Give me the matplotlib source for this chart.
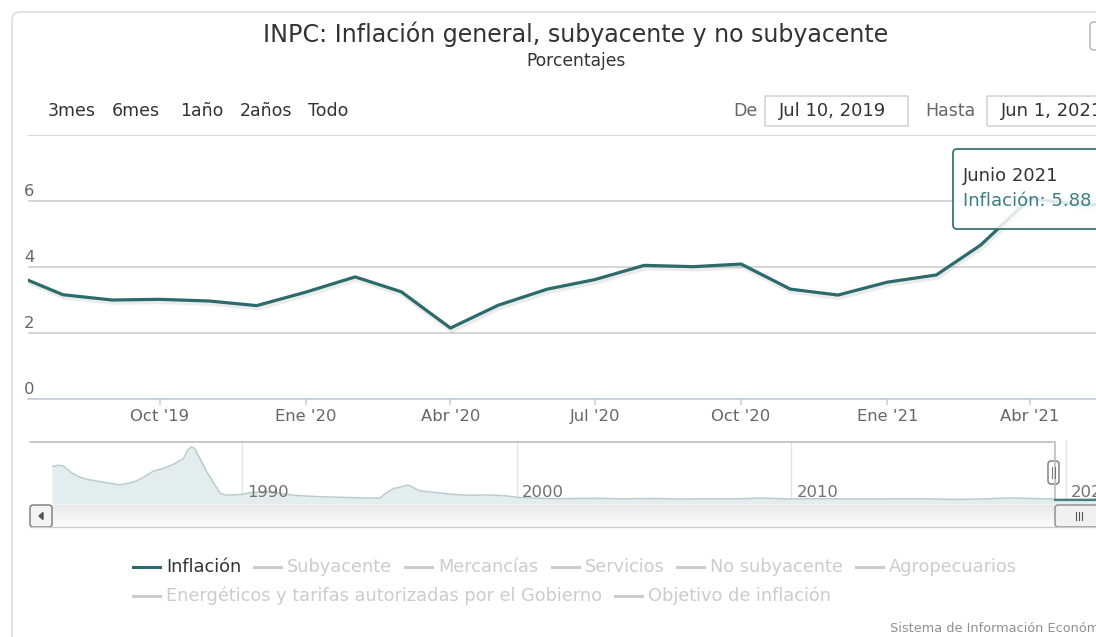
import datetime
import matplotlib
matplotlib.use("Agg")
import matplotlib.pyplot as plt
import matplotlib.dates as mdates
import matplotlib.transforms as mtrans
import matplotlib.patheffects as pe
from matplotlib.patches import FancyBboxPatch, Polygon
from matplotlib.lines import Line2D
from matplotlib.colors import LinearSegmentedColormap
import numpy as np

# INPC headline inflation (%), monthly, Jul 2019 - Jun 2021
months = ["2019-07", "2019-08", "2019-09", "2019-10", "2019-11", "2019-12",
          "2020-01", "2020-02", "2020-03", "2020-04", "2020-05", "2020-06",
          "2020-07", "2020-08", "2020-09", "2020-10", "2020-11", "2020-12",
          "2021-01", "2021-02", "2021-03", "2021-04", "2021-05", "2021-06"]
inflation = [3.78, 3.16, 3.00, 3.02, 2.97, 2.83,
             3.24, 3.70, 3.25, 2.15, 2.84, 3.33,
             3.62, 4.05, 4.01, 4.09, 3.33, 3.15,
             3.54, 3.76, 4.67, 6.08, 5.89, 5.88]

# whole history for the navigator (year, %)
nav_years = [1983.08, 1983.3, 1983.5, 1983.75, 1984.05, 1984.35, 1984.85, 1985.57,
             1986.05, 1986.4, 1986.77, 1987.13, 1987.5, 1987.86, 1988.04, 1988.16,
             1988.28, 1988.7, 1989.2, 1989.44, 1990.0, 1990.3, 1990.9, 1991.87,
             1992.84, 1994.05, 1995.02, 1995.26, 1995.5, 1995.8, 1996.05, 1996.23,
             1996.48, 1997.08, 1997.69, 1998.3, 1999.02, 1999.63, 2000.11, 2001.32,
             2002.9, 2003.9, 2004.9, 2005.9, 2006.9, 2007.9, 2008.9, 2009.9, 2010.9,
             2011.9, 2012.9, 2013.9, 2014.9, 2015.9, 2016.9, 2017.9, 2018.9, 2019.9,
             2020.9, 2021.42]
nav_values = [113, 118, 115, 95, 79, 70, 62, 51,
              61, 76, 98, 107, 121, 140, 172, 180,
              174, 98, 23, 16, 19, 25, 29, 16,
              11, 8, 6, 25, 38, 45, 51, 42,
              31, 25, 19, 16, 17, 14, 8, 4.5,
              5.7, 4.0, 5.2, 3.3, 4.1, 3.8, 6.5, 3.6, 4.4,
              3.8, 3.6, 4.0, 4.1, 2.1, 3.4, 6.8, 4.8, 2.8,
              3.2, 5.9]
nav_decades = [1990, 2000, 2010, 2020]

month_abbr = {1: "Ene", 4: "Abr", 7: "Jul", 10: "Oct"}
y_labels = [0, 2, 4, 6]
range_buttons = ["3mes", "6mes", "1año", "2años", "Todo"]
legend_row1 = ["Inflación", "Subyacente", "Mercancías", "Servicios",
               "No subyacente", "Agropecuarios"]
legend_row2 = ["Energéticos y tarifas autorizadas por el Gobierno",
               "Objetivo de inflación"]

W, H = 1096, 637
TEAL = "#2c6b6b"
LABEL = "#666666"
plt.rcParams["font.family"] = ["DejaVu Sans"]

fig = plt.figure(figsize=(W / 100, H / 100), dpi=100)
fig.patch.set_facecolor("white")
# pixel coords measured from the top-left corner
T = mtrans.Affine2D().scale(1, -1).translate(0, H)


def add_px_axes(x0, y0, x1, y1):
    return fig.add_axes([x0 / W, 1 - y1 / H, (x1 - x0) / W, (y1 - y0) / H])


def px_text(x, y, s, **kw):
    return fig.text(x, y, s, transform=T, **kw)


def px_box(x, y, w, h, r, **kw):
    p = FancyBboxPatch((x, y), w, h, boxstyle="round,pad=0,rounding_size=%d" % r,
                       transform=T, **kw)
    fig.patches.append(p)
    return p


def px_line(xs, ys, **kw):
    fig.lines.append(Line2D(xs, ys, transform=T, **kw))


# chart container
px_box(12, 12, 1300, 700, 8, facecolor="none", edgecolor="#dddddd", lw=1.2)
px_box(1090, 22, 40, 28, 4, facecolor="white", edgecolor="#b0b0b0", lw=1)

# titles
px_text(576, 42, "INPC: Inflación general, subyacente y no subyacente",
        ha="center", va="baseline", fontsize=17.1, color="#333333")
px_text(576, 66, "Porcentajes", ha="center", va="baseline", fontsize=12.3,
        color="#333333")

# range selector
for x, s in zip([48, 112, 180, 240, 308], range_buttons):
    px_text(x, 111, s, ha="left", va="center", fontsize=12.5, color="#333333")
px_text(733, 111, "De", ha="left", va="center", fontsize=12.5, color=LABEL)
px_box(765, 96, 143, 30, 0, facecolor="white", edgecolor="#cccccc", lw=1)
px_text(779, 111, "Jul 10, 2019", ha="left", va="center", fontsize=13, color="#333333")
px_text(925, 111, "Hasta", ha="left", va="center", fontsize=12.5, color=LABEL)
px_box(987, 96, 143, 30, 0, facecolor="white", edgecolor="#cccccc", lw=1)
px_text(1001, 111, "Jun 1, 2021", ha="left", va="center", fontsize=13, color="#333333")

# main chart
dates = [datetime.datetime.strptime(m, "%Y-%m") for m in months]
ax = add_px_axes(28, 135, 1127, 399)
ax.plot(dates, inflation, color=TEAL, lw=2.3, solid_joinstyle="round",
        path_effects=[pe.SimpleLineShadow(offset=(1, -1.5), alpha=0.08, linewidth=4),
                      pe.Normal()], zorder=3)
ax.set_xlim(datetime.datetime(2019, 7, 10), datetime.datetime(2021, 6, 1))
ax.set_ylim(0, 8)
for s in ["top", "right", "left"]:
    ax.spines[s].set_visible(False)
ax.spines["bottom"].set_color("#C0D0E0")
ax.spines["bottom"].set_linewidth(1.2)
ax.set_yticks([0, 2, 4, 6, 8])
ax.yaxis.grid(True, color="#cccccc", lw=1.1)
ax.tick_params(axis="y", left=False, labelleft=False)
ax.set_axisbelow(True)
ax.xaxis.set_major_locator(mdates.MonthLocator(bymonth=list(month_abbr)))
ax.xaxis.set_major_formatter(
    plt.FuncFormatter(lambda v, p: "%s '%s" % (month_abbr[mdates.num2date(v).month],
                                               mdates.num2date(v).strftime("%y"))))
ax.tick_params(axis="x", length=4, width=1.1, color="#C0D0E0", pad=3,
               labelsize=11.8, labelcolor=LABEL)
ylab_tr = mtrans.offset_copy(ax.get_yaxis_transform(), fig=fig, x=-4, y=2, units="dots")
for v in y_labels:
    ax.text(0, v, str(v), transform=ylab_tr, ha="left", va="bottom",
            fontsize=11.8, color=LABEL)

# tooltip
px_box(953, 149, 200, 80, 4, facecolor=(1, 1, 1, 0.85), edgecolor=TEAL, lw=1.2,
       zorder=5)
px_text(963, 176, "Junio 2021", ha="left", va="center", fontsize=13, color="#333333",
        zorder=6)
px_text(963, 201, "Inflación: 5.88", ha="left", va="center", fontsize=13,
        color="#3d7d84", zorder=6)

# navigator
nav = add_px_axes(52, 441, 1105, 504)
nav_lo = -13.6
nav.fill_between(nav_years, nav_values, nav_lo, color="#e4eded", lw=0)
nav.plot(nav_years, nav_values, color="#b9cdcd", lw=1.1)
for d in nav_decades:
    nav.axvline(d, color="#e3e3e3", lw=1, zorder=0)
    nav.annotate(str(d), (d, 0), xycoords=("data", "axes fraction"),
                 xytext=(5, 4), textcoords="offset pixels", ha="left", va="bottom",
                 fontsize=11.8, color="#707070")
nav.set_xlim(nav_years[0], nav_years[-1])
nav.set_ylim(nav_lo, 200)
nav.axis("off")

px_line([30, 1055, 1055], [441.5, 441.5, 500], color="#b8b8b8", lw=1.1)
px_line([1055, 1130], [500, 500], color="#4c7d7d", lw=1.6)
px_box(1048, 461, 11, 23, 3, facecolor="white", edgecolor="#777777", lw=1)
px_line([1052, 1052], [467, 478], color="#777777", lw=0.8)
px_line([1055, 1055], [467, 478], color="#777777", lw=0.8)

# scrollbar
sb = add_px_axes(30, 505, 1127, 527)
grad = LinearSegmentedColormap.from_list("sb", ["#e9e9e9", "#fdfdfd"])
sb.imshow(np.linspace(0, 1, 20).reshape(-1, 1), aspect="auto", cmap=grad,
          extent=[0, 1, 0, 1], origin="upper")
sb.axis("off")
px_line([30, 1127], [527, 527], color="#cccccc", lw=1)
px_box(30, 505, 22, 22, 3, facecolor="#f3f3f3", edgecolor="#777777", lw=1)
fig.patches.append(Polygon([(39, 516), (43, 512.5), (43, 519.5)], closed=True,
                           transform=T, color="#555555"))
px_box(1055, 505, 50, 22, 3, facecolor="#f1f1f1", edgecolor="#888888", lw=1)
px_box(1105, 505, 22, 22, 3, facecolor="#f1f1f1", edgecolor="#888888", lw=1)
for x in [1076, 1079, 1082]:
    px_line([x, x], [512, 520], color="#555555", lw=0.8)

# legend
r = fig.canvas.get_renderer()
for row, y in [(legend_row1, 567), (legend_row2, 596)]:
    x = 133
    for s in row:
        on = s == "Inflación"
        px_line([x, x + 27], [y, y], color=TEAL if on else "#cccccc", lw=2.2)
        t = px_text(x + 33, y, s, ha="left", va="center", fontsize=12.75,
                    color="#333333" if on else "#cccccc")
        x += 33 + t.get_window_extent(r).width + 13

# credit
px_text(890, 628, "Sistema de Información Económica", ha="left", va="center",
        fontsize=9.3, color="#909090")

fig.savefig("out.png", dpi=100)
